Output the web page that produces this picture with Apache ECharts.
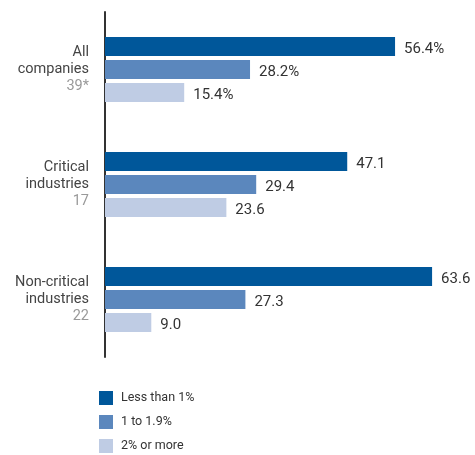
<!DOCTYPE html>
<html><head><meta charset="utf-8">
<script src="https://cdn.jsdelivr.net/npm/echarts@6/dist/echarts.min.js"></script>
<style>html,body{margin:0;padding:0;background:#fff}#c{width:475px;height:455px}</style>
</head><body><div id="c"></div>
<script>
const categories = ['All\ncompanies', 'Critical\nindustries', 'Non-critical\nindustries'];
const counts = ['39*', '17', '22'];
const seriesNames = ['Less than 1%', '1 to 1.9%', '2% or more'];
const lessThan1 = [56.4, 47.1, 63.6];
const oneTo19 = [28.2, 29.4, 27.3];
const twoOrMore = [15.4, 23.6, 9.0];
const colors = ['#00579a', '#5b87bd', '#bfcce4'];
const valuesAll = [lessThan1, oneTo19, twoOrMore];

const chart = echarts.init(document.getElementById('c'));
const font = 'Roboto, sans-serif';
chart.setOption({
  animation: false,
  textStyle: {fontFamily: font},
  grid: {left: 105, top: 12, width: 360, height: 345, containLabel: false},
  xAxis: {type: 'value', min: 0, max: 70, show: false},
  yAxis: {
    type: 'category', inverse: true, data: categories,
    axisLine: {show: true, lineStyle: {color: '#333', width: 2}},
    axisTick: {show: false},
    axisLabel: {
      margin: 16, align: 'right',
      formatter: (v, i) => v + '\n{n|' + counts[i] + '}',
      color: '#444', fontSize: 14.5, lineHeight: 17, fontFamily: font,
      rich: {n: {color: '#999', fontSize: 14.5, lineHeight: 17, fontFamily: font}}
    }
  },
  legend: {
    orient: 'vertical', left: 99, top: 391, padding: 0, itemWidth: 14, itemHeight: 14, itemGap: 10,
    icon: 'rect',
    textStyle: {color: '#333', fontSize: 12.5, fontFamily: font, padding: [0, 0, 0, 3]},
    data: seriesNames
  },
  series: seriesNames.map((n, k) => ({
    name: n, type: 'bar', data: valuesAll[k], barWidth: 19, barGap: '21%',
    itemStyle: {color: colors[k]},
    label: {
      show: true, position: 'right', distance: 9, offset: [0, 3], color: '#333', fontSize: 15, fontFamily: font,
      formatter: p => p.value.toFixed(1) + (p.dataIndex === 0 ? '%' : '')
    }
  }))
});
</script></body></html>
